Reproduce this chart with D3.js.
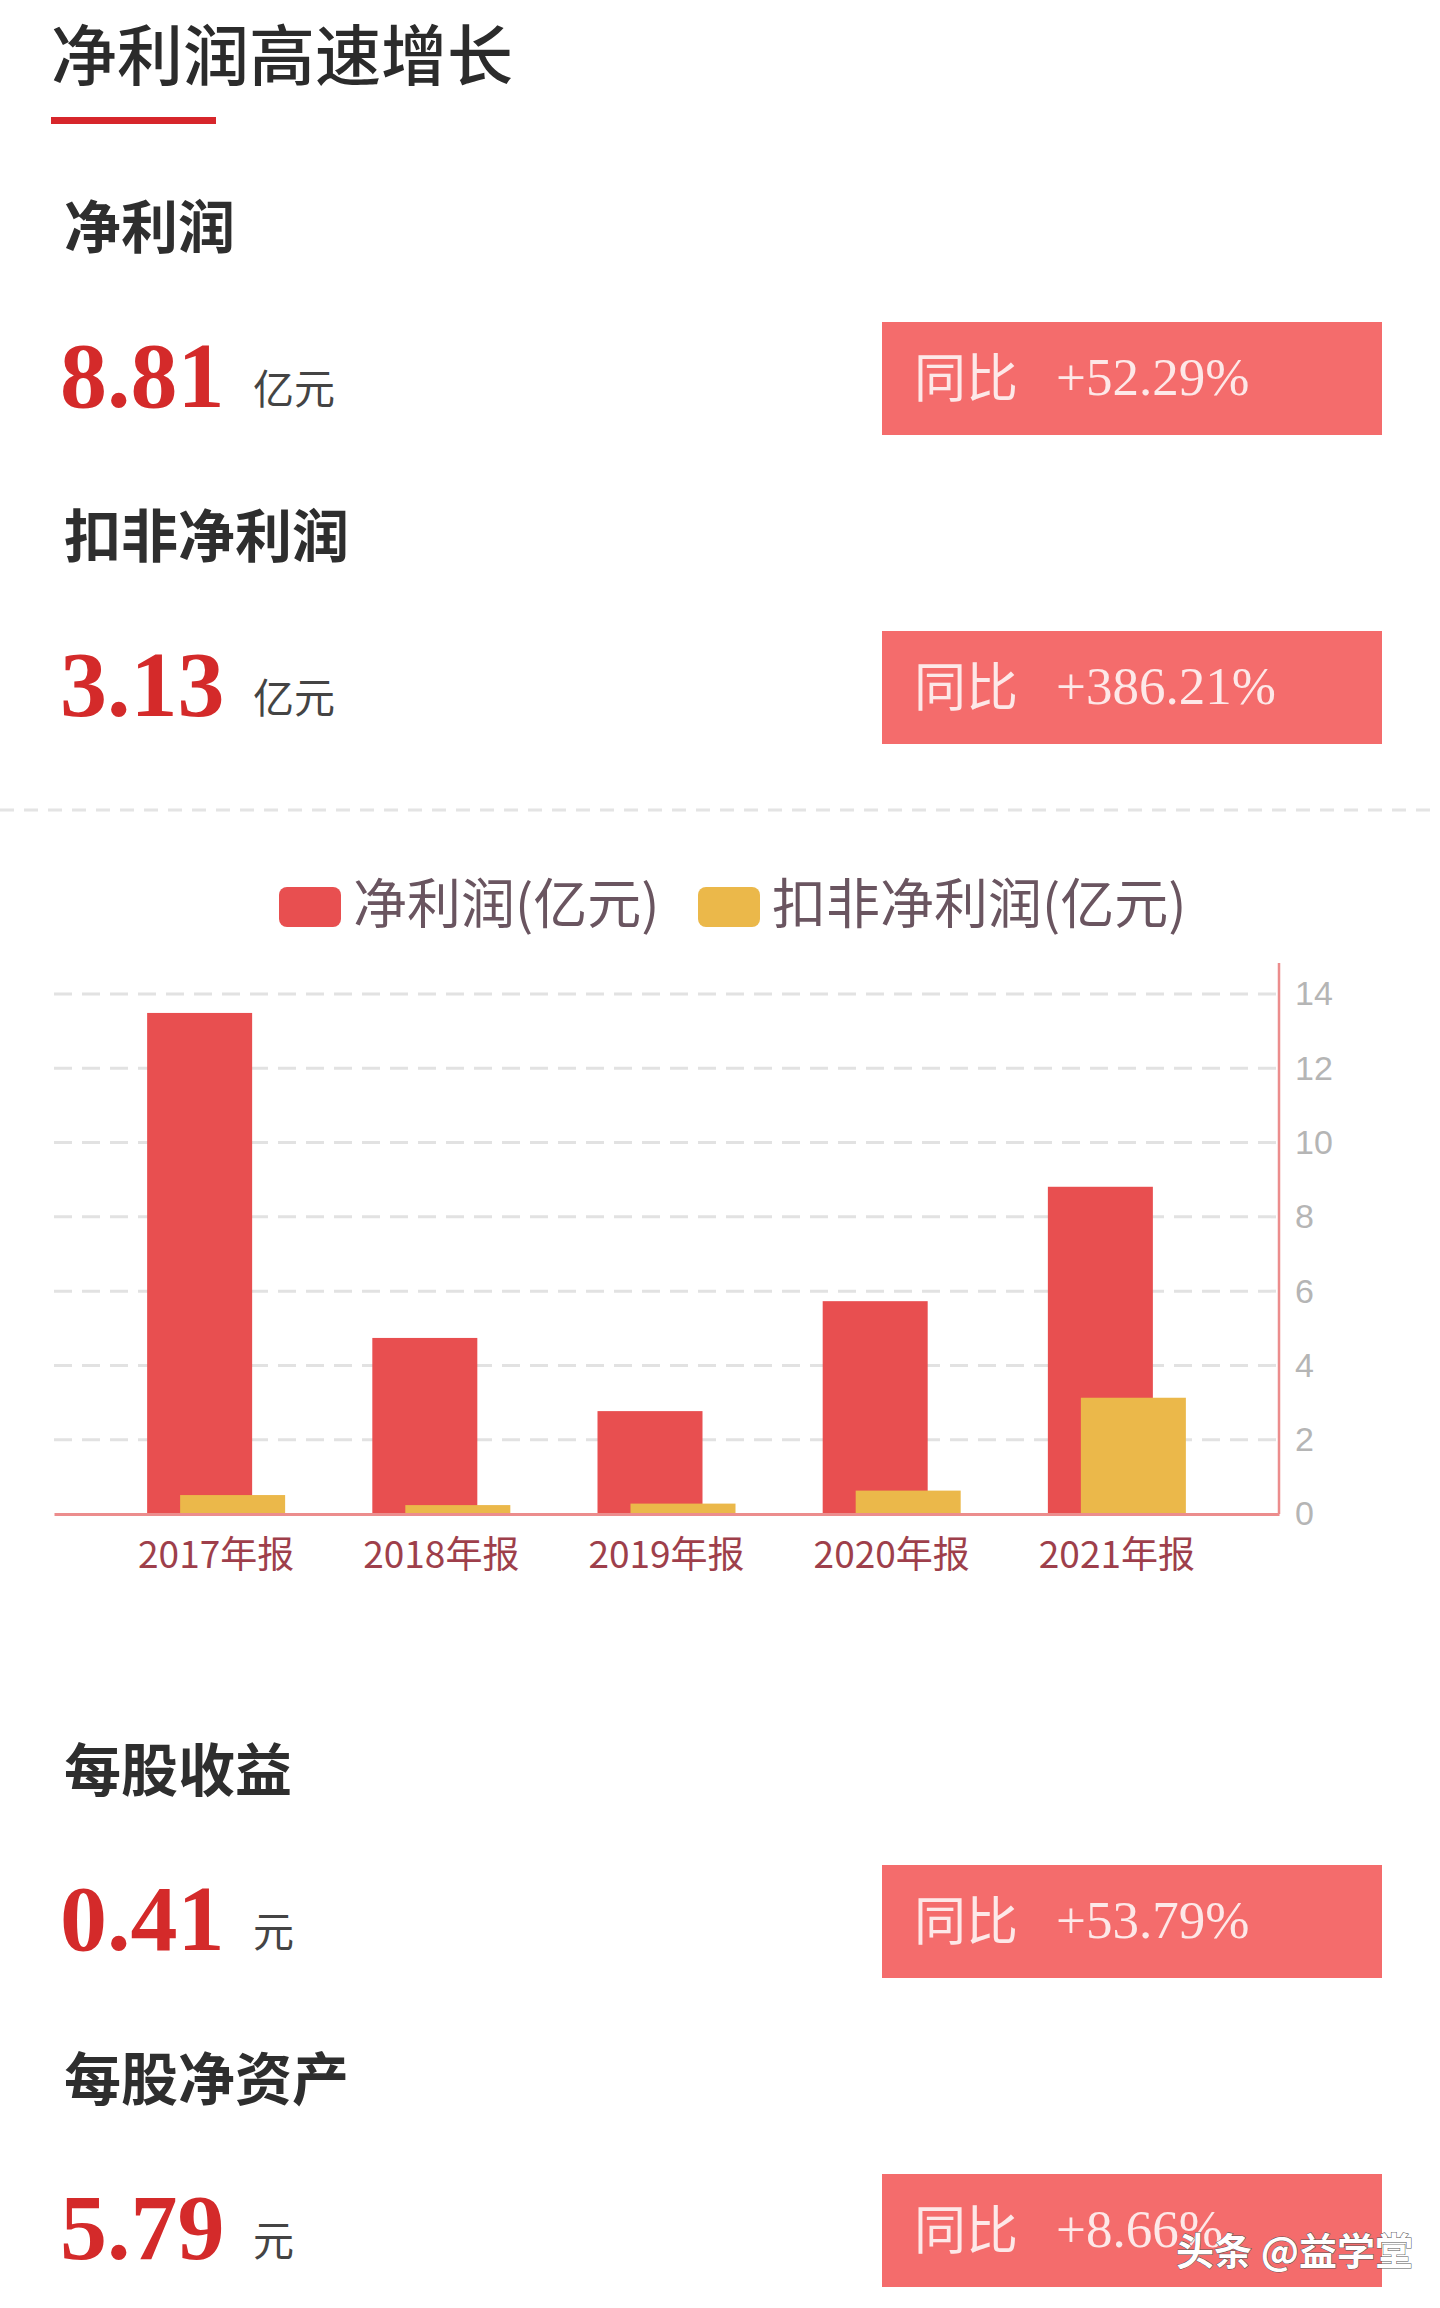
<!DOCTYPE html>
<html><head><meta charset="utf-8">
<script src="https://cdn.jsdelivr.net/npm/d3@7"></script>
<style>body{margin:0;background:#fff}</style>
</head><body>
<svg id="c" width="1440" height="2308"></svg>
<script>
"use strict";

//chart data
const years = ["2017年报","2018年报","2019年报","2020年报","2021年报"];
const netProfit = [13.49, 4.74, 2.77, 5.73, 8.81];
const netProfitExcl = [0.51, 0.24, 0.28, 0.63, 3.13];
const yTicks = [0,2,4,6,8,10,12,14];
const seriesNames = ["净利润(亿元)","扣非净利润(亿元)"];

//KPI blocks
const kpiLabels = ["净利润","扣非净利润","每股收益","每股净资产"];
const kpiValues = ["8.81","3.13","0.41","5.79"];
const kpiUnits = ["亿元","亿元","元","元"];
const kpiYoY = ["+52.29%","+386.21%","+53.79%","+8.66%"];

const svg = d3.select("#c");
const cjk = "'Noto Sans CJK SC', sans-serif";
const red = "#e84f50", yellow = "#ebb84a", boxRed = "#f46c6c";

svg.append("text").attr("x",51).attr("y",80).attr("font-family",cjk)
  .attr("font-size",66).attr("font-weight",500).attr("fill","#2b2b2b").text("净利润高速增长");
svg.append("rect").attr("x",51).attr("y",117).attr("width",165).attr("height",7).attr("fill","#d7262b");

const blockTop = [228, 537, 1771, 2080];
kpiLabels.forEach((lab,i) => {
  const y0 = blockTop[i];
  svg.append("text").attr("x",64).attr("y",y0+20).attr("font-family",cjk)
    .attr("font-size",57).attr("font-weight",700).attr("fill","#2e2e2e").text(lab);
  svg.append("text").attr("x",60).attr("y",y0+179).attr("font-family","'Liberation Serif', serif")
    .attr("font-size",94).attr("font-weight",700).attr("fill","#d42a2a").text(kpiValues[i]);
  svg.append("text").attr("x",253).attr("y",y0+176).attr("font-family",cjk)
    .attr("font-size",41).attr("fill","#444").text(kpiUnits[i]);
  svg.append("rect").attr("x",882).attr("y",y0+94).attr("width",500).attr("height",113).attr("fill",boxRed);
  svg.append("text").attr("x",914).attr("y",y0+169).attr("font-family",cjk)
    .attr("font-size",52).attr("fill","#fde8e8").text("同比");
  svg.append("text").attr("x",1056).attr("y",y0+167).attr("font-family","'Liberation Serif', serif")
    .attr("font-size",53).attr("fill","#fde8e8").text(kpiYoY[i]);
});

//dashed separator
svg.append("line").attr("x1",0).attr("x2",1440).attr("y1",810).attr("y2",810)
  .attr("stroke","#e4e4e4").attr("stroke-width",3).attr("stroke-dasharray","14,10");

//legend
const legendX = [279, 698];
[red, yellow].forEach((col,i) => {
  svg.append("rect").attr("x",legendX[i]).attr("y",887).attr("width",62).attr("height",40)
    .attr("rx",8).attr("fill",col);
  svg.append("text").attr("x",legendX[i]+74).attr("y",924).attr("font-family",cjk)
    .attr("font-size",54).attr("fill","#6a5560").text(seriesNames[i]);
});

//chart
const left = 54, right = 1279, y0 = 1514, yTop = 994;
const x = d3.scaleBand().domain(years).range([left,right]).paddingOuter(0.22).paddingInner(0);
const y = d3.scaleLinear().domain([0,14]).range([y0,yTop]);
const bw = 105, off = 33;

svg.append("g").selectAll("line").data(yTicks.slice(1)).join("line")
  .attr("x1",left).attr("x2",right).attr("y1",d=>y(d)).attr("y2",d=>y(d))
  .attr("stroke","#e2e2e2").attr("stroke-width",3).attr("stroke-dasharray","18,10");

svg.append("g").selectAll("rect").data(netProfit).join("rect")
  .attr("x",(d,i)=>x(years[i])+x.bandwidth()/2-(bw+off)/2).attr("width",bw)
  .attr("y",d=>y(d)).attr("height",d=>y0-y(d)).attr("fill",red);
svg.append("g").selectAll("rect").data(netProfitExcl).join("rect")
  .attr("x",(d,i)=>x(years[i])+x.bandwidth()/2-(bw+off)/2+off).attr("width",bw)
  .attr("y",d=>y(d)).attr("height",d=>y0-y(d)).attr("fill",yellow);

const yAxis = svg.append("g").attr("transform",`translate(${right},0)`)
  .call(d3.axisRight(y).tickValues(yTicks).tickSize(0).tickPadding(16));
yAxis.select(".domain").remove();
yAxis.selectAll("text").attr("font-family","'Liberation Sans', sans-serif").attr("font-size",34).attr("fill","#b5b5b5");
svg.append("line").attr("x1",right).attr("x2",right).attr("y1",963).attr("y2",y0)
  .attr("stroke","#ec8d8d").attr("stroke-width",2.5);

const xAxis = svg.append("g").attr("transform",`translate(0,${y0})`)
  .call(d3.axisBottom(x).tickSize(0).tickPadding(28));
xAxis.select(".domain").attr("stroke","#ec8d8d").attr("stroke-width",3);
xAxis.selectAll("text").attr("font-family",cjk).attr("font-size",37).attr("fill","#9e3f4b");

//watermark
svg.append("text").attr("x",1176).attr("y",2265).attr("font-family",cjk)
  .attr("font-size",38).attr("font-weight",700).attr("fill","#fff")
  .attr("stroke","#555").attr("stroke-width",1).attr("paint-order","stroke").text("头条 @益学堂");
</script>
</body></html>
